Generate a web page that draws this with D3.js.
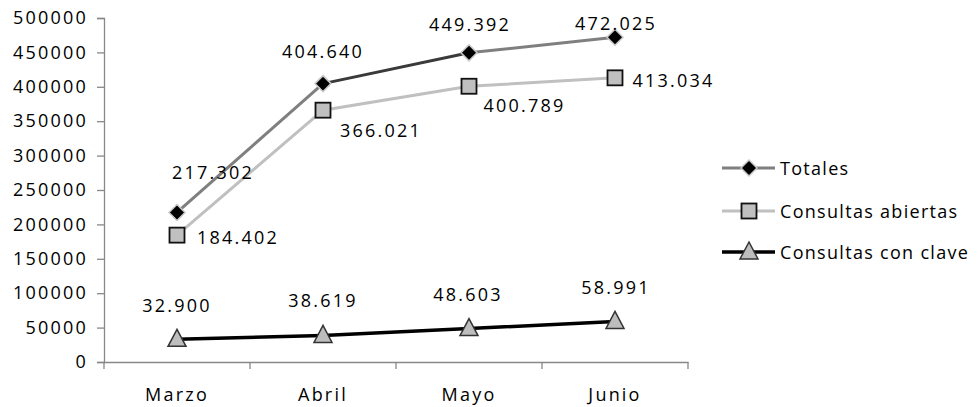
<!DOCTYPE html>
<html><head><meta charset="utf-8">
<script src="https://cdn.jsdelivr.net/npm/d3@7"></script>
<style>
body{margin:0;background:#fff;}
text{font-family:"Open Sans",sans-serif;font-size:18px;fill:#000;letter-spacing:2.2px;}
</style></head><body>
<svg id="c" width="978" height="407"></svg>
<script>
const categories = ["Marzo","Abril","Mayo","Junio"];
const totales = [217302, 404640, 449392, 472025];
const abiertas = [184402, 366021, 400789, 413034];
const clave = [32900, 38619, 48603, 58991];
const seriesNames = ["Totales","Consultas abiertas","Consultas con clave"];
const yTicks = [0,50000,100000,150000,200000,250000,300000,350000,400000,450000,500000];

const lab = v => { const s = String(v); return s.slice(0,s.length-3)+"."+s.slice(-3); };

const svg = d3.select("#c");
const x = d3.scaleBand().domain(categories).range([104,688]);
const y = d3.scaleLinear().domain([0,500000]).range([362,18]);
const cx = c => x(c) + x.bandwidth()/2;

// y axis
const ya = svg.append("g").attr("transform","translate(104,0)")
  .call(d3.axisLeft(y).tickValues(yTicks).tickSize(7).tickPadding(9).tickFormat(d3.format("d")));
ya.select(".domain").attr("stroke","#888").attr("stroke-width",1.3);
ya.selectAll(".tick line").attr("stroke","#888").attr("stroke-width",1.3);
ya.selectAll("text").style("font-size","18px").attr("fill","#000");

// x axis
const xa = svg.append("g").attr("transform","translate(0,362)")
  .call(d3.axisBottom(x).tickSize(0).tickPadding(26));
xa.select(".domain").attr("stroke","#888").attr("stroke-width",1.3);
xa.selectAll("text").style("font-size","18px").attr("fill","#000");
const bounds = categories.map(c=>x(c)).concat([x(categories[categories.length-1])+x.bandwidth()]);
svg.append("g").selectAll("line").data(bounds).join("line")
  .attr("x1",d=>d).attr("x2",d=>d).attr("y1",362).attr("y2",369)
  .attr("stroke","#888").attr("stroke-width",1.3);

// lines
const totSegColors = ["#7f7f7f","#3a3a3a","#7f7f7f"];
for (let i=0;i<totales.length-1;i++){
  svg.append("line").attr("x1",cx(categories[i])).attr("y1",y(totales[i]))
    .attr("x2",cx(categories[i+1])).attr("y2",y(totales[i+1]))
    .attr("stroke",totSegColors[i]).attr("stroke-width",3);
}
const line = d3.line().x((d,i)=>cx(categories[i])).y(d=>y(d));
svg.append("path").datum(abiertas).attr("d",line).attr("fill","none").attr("stroke","#c0c0c0").attr("stroke-width",3);
svg.append("path").datum(clave).attr("d",line).attr("fill","none").attr("stroke","#000").attr("stroke-width",3.5);

// markers
function diamond(g,px,py){ g.append("path").attr("d",`M${px},${py-8}L${px+8},${py}L${px},${py+8}L${px-8},${py}Z`)
  .attr("fill","#000").attr("stroke","#c8c8c8").attr("stroke-width",1.5); }
function square(g,px,py){ g.append("rect").attr("x",px-7.5).attr("y",py-7.5).attr("width",15).attr("height",15)
  .attr("fill","#c0c0c0").attr("stroke","#111").attr("stroke-width",1.8); }
function tri(g,px,py){ g.append("path").attr("d",`M${px},${py-10}L${px+9},${py+7}L${px-9},${py+7}Z`)
  .attr("fill","#bdbdbd").attr("stroke","#333").attr("stroke-width",1.5); }
const mg = svg.append("g");
totales.forEach((v,i)=>diamond(mg,cx(categories[i]),y(v)));
abiertas.forEach((v,i)=>square(mg,cx(categories[i]),y(v)));
clave.forEach((v,i)=>tri(mg,cx(categories[i]),y(v)));

// data labels (offsets from point)
const totOff = [[36,-40],[0,-33],[1,-29],[1,-14]];
const abOff = [[20,1.5],[17,20],[14.5,19],[17.5,2]];
const clOff = [[0,-34],[0,-35],[-1,-35],[1,-34]];
const lg = svg.append("g");
totales.forEach((v,i)=>lg.append("text").attr("x",cx(categories[i])+totOff[i][0]).attr("y",y(v)+totOff[i][1])
  .attr("text-anchor","middle").attr("dominant-baseline","central").text(lab(v)));
abiertas.forEach((v,i)=>lg.append("text").attr("x",cx(categories[i])+abOff[i][0]).attr("y",y(v)+abOff[i][1])
  .attr("text-anchor","start").attr("dominant-baseline","central").text(lab(v)));
clave.forEach((v,i)=>lg.append("text").attr("x",cx(categories[i])+clOff[i][0]).attr("y",y(v)+clOff[i][1])
  .attr("text-anchor","middle").attr("dominant-baseline","central").text(lab(v)));

// legend
const leg = svg.append("g");
const legY = [168,211,252];
const legStroke = ["#7f7f7f","#c0c0c0","#000"];
const legW = [3,3,3.5];
seriesNames.forEach((n,i)=>{
  leg.append("line").attr("x1",722).attr("x2",775).attr("y1",legY[i]).attr("y2",legY[i])
    .attr("stroke",legStroke[i]).attr("stroke-width",legW[i]);
  if(i===0) diamond(leg,749,legY[i]); else if(i===1) square(leg,749,legY[i]); else tri(leg,749,legY[i]);
  leg.append("text").attr("x",780).attr("y",legY[i]).attr("dominant-baseline","central")
    .style("letter-spacing","1.3px").text(n);
});
</script>
</body></html>
